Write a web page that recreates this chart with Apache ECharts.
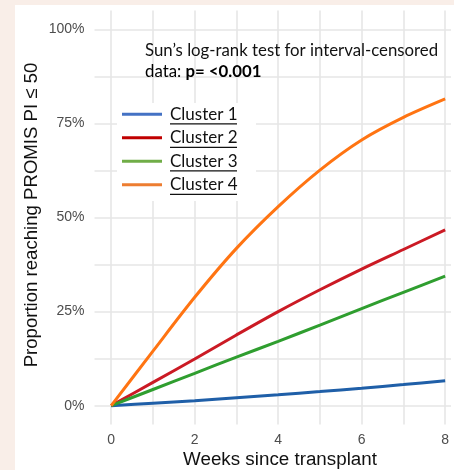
<!DOCTYPE html>
<html><head><meta charset="utf-8">
<script src="https://cdn.jsdelivr.net/npm/echarts@6/dist/echarts.min.js"></script>
<style>html,body{margin:0;padding:0;background:#f9eee8;}#c{width:454px;height:470px;}</style>
</head><body><div id="c"></div>
<script>
const weeks = [0, 1, 2, 3, 4, 5, 6, 7, 8];
const cluster1 = [0, 0.65, 1.3, 2.1, 2.9, 3.75, 4.65, 5.6, 6.6];
const cluster2 = [0, 6.2, 12.4, 18.8, 25.0, 30.8, 36.3, 41.5, 46.7];
const cluster3 = [0, 4.3, 8.6, 12.9, 17.1, 21.4, 25.8, 30.1, 34.4];
const cluster4 = [0, 14.5, 28.8, 41.8, 52.9, 62.6, 70.6, 76.6, 81.5];
const seriesNames = ['Cluster 1', 'Cluster 2', 'Cluster 3', 'Cluster 4'];
const lineColors = ['#1f5fa8', '#cb1a24', '#2f9e2f', '#ff7412'];
const keyColors = ['#4472c4', '#c00000', '#70ad47', '#ed7d31'];
const yTicks = [0, 25, 50, 75, 100];
const xTicks = [0, 2, 4, 6, 8];
const gridX = [0, 1, 2, 3, 4, 5, 6, 7, 8];
const gridY = [0, 12.5, 25, 37.5, 50, 62.5, 75, 87.5, 100];

const chart = echarts.init(document.getElementById('c'));
const allData = [cluster1, cluster2, cluster3, cluster4];
const gridColor = '#e6e6e6';
const near = (v, arr) => arr.some(t => Math.abs(v - t) < 1e-6);
const legendEls = [{type:'rect', shape:{x:117,y:103,width:139,height:98}, style:{fill:'#ffffff'}, z:50, silent:true}];
seriesNames.forEach((n, i) => {
  const cy = 114.3 + i * 23.5;
  legendEls.push({type:'line', shape:{x1:122,y1:cy,x2:162,y2:cy}, style:{stroke:keyColors[i], lineWidth:3}, z:51});
  legendEls.push({type:'text', x:170, y:cy, style:{text:n, font:'17px Lato', fill:'#111', textVerticalAlign:'middle'}, z:51});
  legendEls.push({type:'line', shape:{x1:170,y1:cy+9.5,x2:237,y2:cy+9.5}, style:{stroke:'#111', lineWidth:1.3}, z:51});
});
const gridSeries = {
  type:'line', data:[], z:1, silent:true,
  markLine:{z:1, silent:true, symbol:['none','none'], label:{show:false}, animation:false,
    lineStyle:{color:gridColor, width:1.6, type:'solid', opacity:1},
    emphasis:{disabled:true},
    data: gridX.map(v => ({xAxis:v})).concat(gridY.map(v => ({yAxis:v})))}
};
chart.setOption({
  backgroundColor: '#f9eee8',
  animation: false,
  grid: {left: 94.5, right: 0, top: 10.5, height: 414, containLabel: false},
  xAxis: {type:'value', min:-0.4, max:8.14, interval:0.2,
    axisLine:{show:false}, axisTick:{show:false}, splitLine:{show:false},
    axisLabel:{color:'#4d4d4d', fontSize:14, fontFamily:'Liberation Sans', margin:9,
      formatter: v => near(v, xTicks) ? String(Math.round(v)) : ''}},
  yAxis: {type:'value', min:-5, max:105, interval:2.5,
    axisLine:{show:false}, axisTick:{show:false}, splitLine:{show:false},
    axisLabel:{color:'#4d4d4d', fontSize:14, fontFamily:'Liberation Sans', margin:10,
      formatter: v => near(v, yTicks) ? Math.round(v) + '%' : ''}},
  series: [gridSeries].concat(allData.map((d, i) => ({
    name: seriesNames[i], type:'line', smooth:0.3, symbol:'none',
    data: weeks.map((w, j) => [w, d[j]]),
    lineStyle:{color: lineColors[i], width:3}, itemStyle:{color: lineColors[i]}, z: 3 + (i===3?1:0)
  }))),
  graphic: [
    {type:'rect', shape:{x:15,y:5,width:439,height:465}, style:{fill:'#ffffff'}, z:-100, silent:true},
    {type:'text', x:145, y:50.5, z:60, style:{text:'Sun’s log-rank test for interval-censored', font:'16.8px Lato', fill:'#111', textVerticalAlign:'middle'}},
    {type:'text', x:145, y:72, z:60, style:{text:'{a|data: }{b|p= <0.001}', textVerticalAlign:'middle',
      rich:{a:{fontFamily:'Lato', fontSize:16.8, color:'#111'}, b:{fontFamily:'Lato', fontSize:16.8, fontWeight:'bold', color:'#111'}}}},
    {type:'text', x:280, y:460, z:60, style:{text:'Weeks since transplant', font:'18.8px Liberation Sans', fill:'#111', textAlign:'center', textVerticalAlign:'middle'}},
    {type:'text', x:32, y:215, rotation:Math.PI/2, z:60, style:{text:'Proportion reaching PROMIS PI ≤ 50', font:'18.6px Liberation Sans', fill:'#111', textAlign:'center', textVerticalAlign:'middle'}}
  ].concat(legendEls)
});
</script></body></html>
